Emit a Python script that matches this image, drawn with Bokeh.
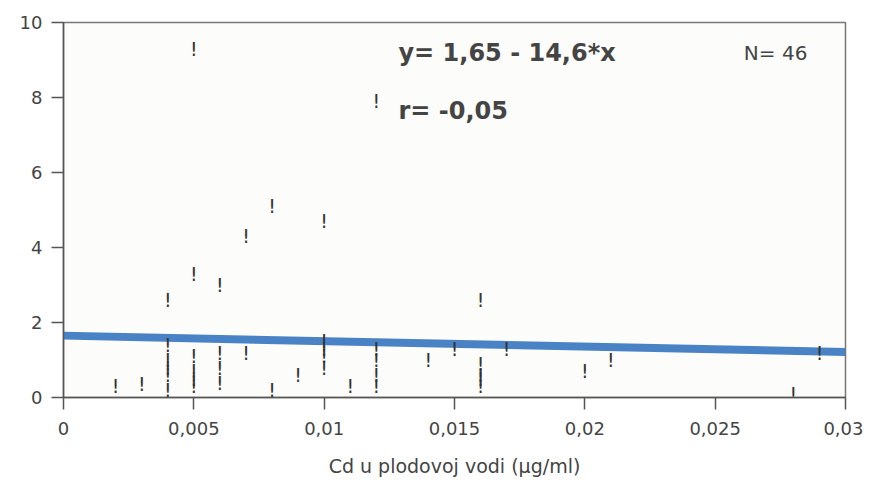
import numpy as np
from bokeh.plotting import figure
from bokeh.models import Range1d, FixedTicker, ColumnDataSource, Label
from bokeh.core.properties import value
from bokeh.embed import file_html
from bokeh.resources import INLINE

# Data
cd_x = [0.002, 0.003,
        0.004, 0.004, 0.004, 0.004, 0.004, 0.004,
        0.005, 0.005, 0.005, 0.005, 0.005, 0.005,
        0.006, 0.006, 0.006, 0.006,
        0.007, 0.007,
        0.008, 0.008,
        0.009,
        0.010, 0.010, 0.010, 0.010, 0.010,
        0.011,
        0.012, 0.012, 0.012, 0.012, 0.012,
        0.014, 0.015,
        0.016, 0.016, 0.016, 0.016, 0.016,
        0.017, 0.020, 0.021, 0.028, 0.029]
y_val = [0.3, 0.35,
         2.6, 1.4, 1.0, 0.8, 0.6, 0.2,
         9.3, 3.3, 1.1, 0.7, 0.5, 0.3,
         3.0, 1.2, 0.8, 0.4,
         4.3, 1.2,
         5.1, 0.2,
         0.6,
         4.7, 1.5, 1.3, 1.1, 0.8,
         0.3,
         7.9, 1.3, 1.0, 0.6, 0.3,
         1.0, 1.3,
         2.6, 0.9, 0.6, 0.5, 0.3,
         1.3, 0.7, 1.0, 0.1, 1.2]

intercept = 1.65
slope = -14.6
r_value = -0.05
n_count = 46

x_ticks = [0, 0.005, 0.01, 0.015, 0.02, 0.025, 0.03]
x_tick_labels = ["0", "0,005", "0,01", "0,015", "0,02", "0,025", "0,03"]
y_ticks = [0, 2, 4, 6, 8, 10]

FONT = "DejaVu Sans"
AX = "#555555"

p = figure(width=863, height=480, output_backend="svg", toolbar_location=None,
           x_range=Range1d(0, 0.03), y_range=Range1d(0, 10),
           min_border_left=63, min_border_right=18, min_border_top=22,
           min_border_bottom=83)
p.grid.visible = False
p.background_fill_color = "#fcfcfa"
p.border_fill_color = "white"
p.outline_line_color = "#777777"
p.outline_line_width = 1.5

# regression line
xl = np.array([x_ticks[0], x_ticks[-1]])
yl = intercept + slope * xl
p.line(xl, yl, line_color="#4a82c6", line_width=8, line_cap="butt")

# points as "!" marks
src = ColumnDataSource(dict(x=cd_x, y=y_val, t=["!"] * len(cd_x)))
p.text("x", "y", text="t", source=src, text_align="center", text_baseline="middle",
       text_font=value(FONT), text_font_size="19px", text_color="#333333")

for ax in (p.xaxis[0], p.yaxis[0]):
    ax.axis_line_color = AX
    ax.axis_line_width = 1.5
    ax.major_tick_line_color = AX
    ax.major_tick_line_width = 1.5
    ax.major_tick_in = 0
    ax.major_tick_out = 12
    ax.minor_tick_line_color = None
    ax.major_label_text_font = FONT
    ax.major_label_text_font_size = "18px"
    ax.major_label_text_color = "#444444"

p.xaxis.ticker = FixedTicker(ticks=x_ticks)
p.xaxis.major_label_overrides = {t: l for t, l in zip(x_ticks, x_tick_labels)}
p.xaxis.major_label_standoff = 12
p.yaxis.ticker = FixedTicker(ticks=y_ticks)
p.yaxis.major_label_standoff = 9

p.xaxis.axis_label = "Cd u plodovoj vodi (µg/ml)"
p.xaxis.axis_label_text_font = FONT
p.xaxis.axis_label_text_font_size = "19px"
p.xaxis.axis_label_text_font_style = "normal"
p.xaxis.axis_label_text_color = "#444444"
p.xaxis.axis_label_standoff = 17

eq = "y= %s - %s*x" % (str(intercept).replace(".", ","), str(abs(slope)).replace(".", ","))
p.add_layout(Label(x=0.01285, y=9.2, text=eq, text_font=FONT, text_font_size="24px",
                   text_font_style="bold", text_color="#444444", text_baseline="middle"))
p.add_layout(Label(x=0.01285, y=7.65, text="r= " + str(r_value).replace(".", ","),
                   text_font=FONT, text_font_size="24px", text_font_style="bold",
                   text_color="#444444", text_baseline="middle"))
p.add_layout(Label(x=0.0261, y=9.2, text="N= %d" % n_count, text_font=FONT,
                   text_font_size="20px", text_color="#444444", text_baseline="middle"))

open("out.html", "w").write(file_html(p, INLINE))
